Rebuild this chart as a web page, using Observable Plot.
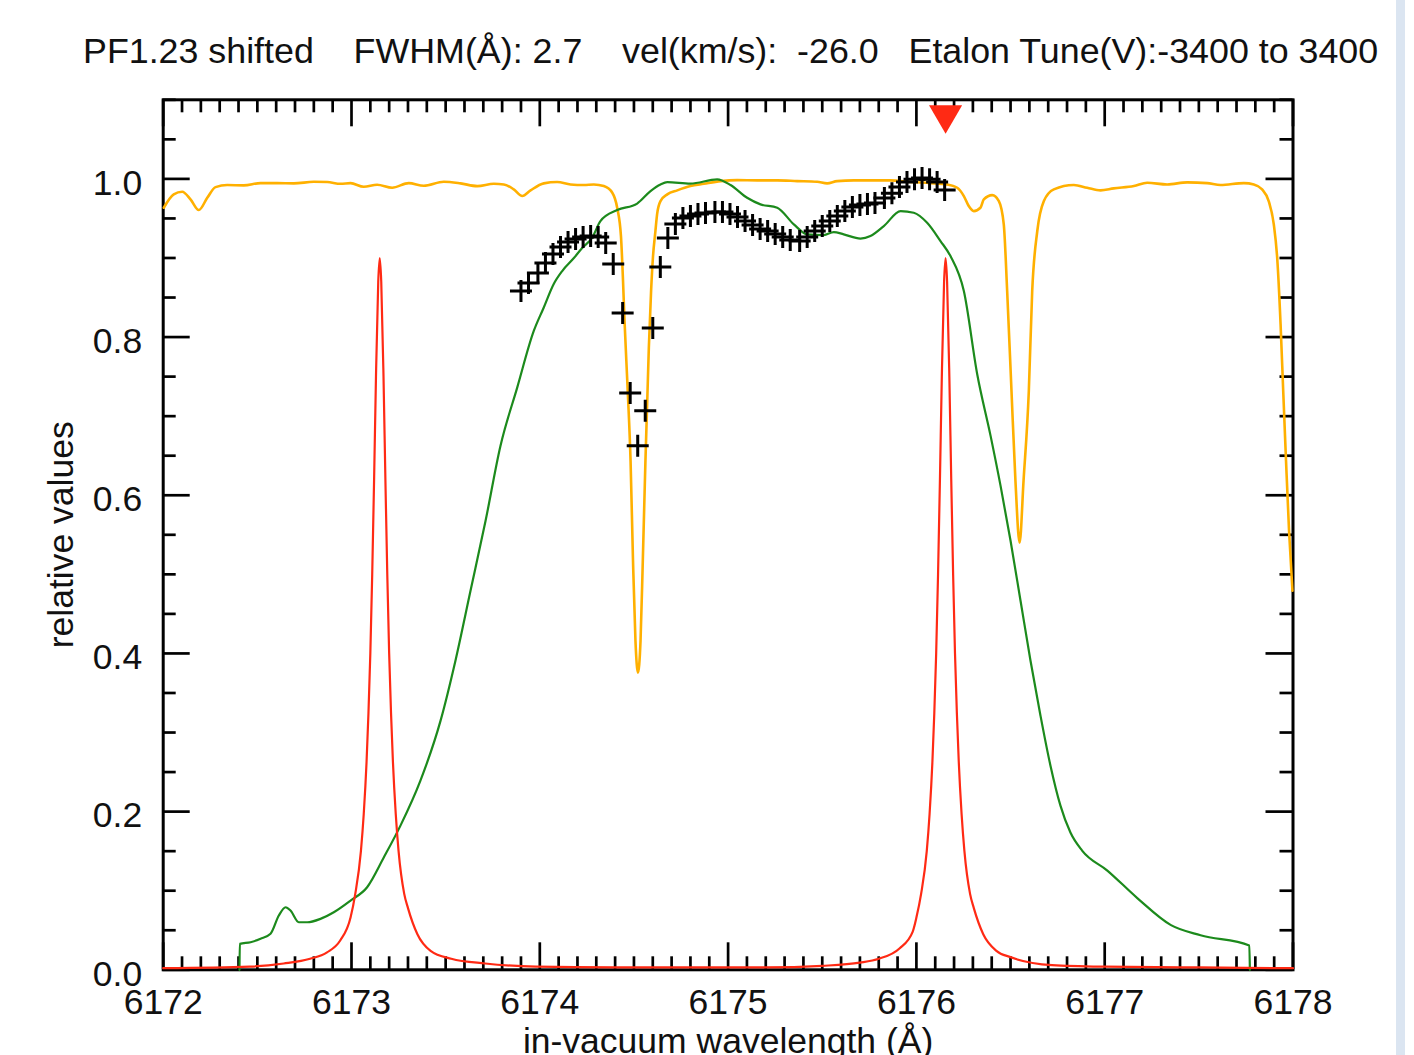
<!DOCTYPE html>
<html><head><meta charset="utf-8">
<script src="https://cdn.jsdelivr.net/npm/d3@7"></script>
<script src="https://cdn.jsdelivr.net/npm/@observablehq/plot@0.6"></script>
<style>
html,body{margin:0;padding:0;background:#fff;}
#wrap{position:relative;width:1414px;height:1055px;overflow:hidden;font-family:"Liberation Sans",Arial,sans-serif;}
#chart{position:absolute;left:0;top:0;}
#title{position:absolute;left:83px;top:34px;font-size:35.8px;line-height:1;white-space:pre;color:#111;}
#strip{position:absolute;left:1396px;top:0;width:9px;height:1055px;background:#dbe5f1;}
</style></head>
<body>
<div id="wrap">
  <div id="chart"></div>
  <div id="title">PF1.23 shifted    FWHM(Å): 2.7    vel(km/s):  -26.0   Etalon Tune(V):-3400 to 3400</div>
  <div id="strip"></div>
</div>
<script>
// ---------- data ----------
const solarWave = [6172.003,6172.056,6172.101,6172.145,6172.189,6172.234,6172.278,6172.340,6172.428,6172.517,6172.605,6172.694,6172.800,6172.871,6172.942,6172.995,6173.065,6173.136,6173.216,6173.304,6173.384,6173.490,6173.579,6173.668,6173.756,6173.809,6173.862,6173.907,6173.951,6174.021,6174.092,6174.163,6174.234,6174.287,6174.340,6174.385,6174.411,6174.431,6174.442,6174.450,6174.467,6174.482,6174.495,6174.508,6174.521,6174.535,6174.547,6174.561,6174.579,6174.591,6174.601,6174.614,6174.623,6174.641,6174.677,6174.730,6174.800,6174.871,6174.960,6175.048,6175.155,6175.261,6175.367,6175.473,6175.526,6175.579,6175.668,6175.774,6175.862,6175.969,6176.075,6176.164,6176.217,6176.252,6176.278,6176.305,6176.340,6176.358,6176.403,6176.438,6176.464,6176.482,6176.505,6176.526,6176.548,6176.569,6176.597,6176.615,6176.642,6176.677,6176.730,6176.836,6176.907,6176.978,6177.048,6177.155,6177.226,6177.332,6177.438,6177.544,6177.615,6177.739,6177.792,6177.836,6177.871,6177.898,6177.916,6177.934,6177.948,6177.963,6177.979,6177.997];
const solarFlux = [0.9635,0.9804,0.9837,0.9741,0.9606,0.9761,0.9896,0.9922,0.9918,0.9947,0.9947,0.9943,0.9963,0.9960,0.9938,0.9947,0.9900,0.9925,0.9888,0.9947,0.9913,0.9963,0.9943,0.9909,0.9938,0.9930,0.9867,0.9783,0.9855,0.9943,0.9960,0.9930,0.9922,0.9930,0.9909,0.9825,0.9635,0.9277,0.8709,0.8203,0.7319,0.6435,0.5171,0.4160,0.3756,0.4160,0.5171,0.6435,0.7862,0.8582,0.9012,0.9341,0.9555,0.9720,0.9804,0.9855,0.9909,0.9938,0.9972,0.9985,0.9981,0.9981,0.9972,0.9963,0.9943,0.9972,0.9981,0.9981,0.9981,0.9960,0.9947,0.9930,0.9888,0.9783,0.9657,0.9593,0.9635,0.9741,0.9795,0.9720,0.9425,0.8582,0.7319,0.6182,0.5399,0.6182,0.7319,0.8582,0.9341,0.9720,0.9867,0.9922,0.9888,0.9855,0.9880,0.9909,0.9951,0.9930,0.9956,0.9947,0.9922,0.9947,0.9930,0.9867,0.9720,0.9425,0.9003,0.8166,0.7319,0.6435,0.5551,0.4792];

const filterWave = [6172.405,6172.407,6172.464,6172.517,6172.570,6172.614,6172.650,6172.676,6172.720,6172.765,6172.835,6172.906,6172.995,6173.083,6173.172,6173.260,6173.366,6173.473,6173.552,6173.632,6173.712,6173.791,6173.880,6173.968,6174.020,6174.074,6174.119,6174.181,6174.225,6174.278,6174.322,6174.411,6174.517,6174.588,6174.641,6174.677,6174.800,6174.942,6175.013,6175.101,6175.172,6175.261,6175.349,6175.420,6175.508,6175.561,6175.614,6175.703,6175.756,6175.827,6175.916,6175.986,6176.057,6176.128,6176.181,6176.252,6176.323,6176.394,6176.447,6176.500,6176.553,6176.606,6176.659,6176.712,6176.765,6176.818,6176.880,6177.014,6177.173,6177.352,6177.509,6177.768,6177.771];
const filterTrans = [0,0.0328,0.0349,0.0392,0.0455,0.0686,0.0791,0.0749,0.0601,0.0601,0.0644,0.0728,0.0876,0.1044,0.1423,0.1823,0.2392,0.3150,0.3908,0.4792,0.5677,0.6624,0.7361,0.8077,0.8368,0.8671,0.8835,0.8999,0.9126,0.9256,0.9467,0.9606,0.9688,0.9846,0.9930,0.9960,0.9941,0.9994,0.9922,0.9761,0.9678,0.9635,0.9425,0.9299,0.9290,0.9328,0.9299,0.9246,0.9277,0.9403,0.9593,0.9572,0.9445,0.9214,0.9024,0.8582,0.7530,0.6751,0.6119,0.5424,0.4666,0.3908,0.3213,0.2581,0.2076,0.1735,0.1507,0.1255,0.0907,0.0565,0.0437,0.0307,0];

const etalonWave = [6172.00,6172.46,6172.64,6172.78,6172.87,6172.94,6172.995,6173.02,6173.05,6173.065,6173.08,6173.09,6173.10,6173.11,6173.12,6173.13,6173.142,6173.15,6173.158,6173.17,6173.18,6173.19,6173.20,6173.21,6173.22,6173.235,6173.25,6173.28,6173.30,6173.35,6173.42,6173.53,6173.71,6173.98,6174.40,6174.80,6175.20,6175.50,6175.70,6175.80,6175.91,6175.98,6176.00,6176.025,6176.055,6176.07,6176.085,6176.095,6176.105,6176.115,6176.125,6176.135,6176.147,6176.155,6176.163,6176.175,6176.185,6176.195,6176.205,6176.215,6176.225,6176.24,6176.255,6176.285,6176.305,6176.355,6176.425,6176.50,6176.72,6177.00,6177.50,6178.00];
const etalonTrans = [0.002,0.004,0.008,0.014,0.022,0.037,0.066,0.096,0.15,0.197,0.263,0.324,0.40,0.50,0.62,0.75,0.87,0.90,0.87,0.75,0.62,0.50,0.40,0.324,0.263,0.197,0.15,0.096,0.078,0.045,0.024,0.014,0.008,0.004,0.003,0.003,0.003,0.005,0.009,0.014,0.027,0.048,0.066,0.096,0.15,0.197,0.263,0.324,0.40,0.50,0.62,0.75,0.87,0.90,0.87,0.75,0.62,0.50,0.40,0.324,0.263,0.197,0.15,0.096,0.078,0.045,0.024,0.016,0.006,0.004,0.003,0.002];

const scanWave = [6173.90,6173.94,6173.99,6174.03,6174.07,6174.11,6174.15,6174.19,6174.23,6174.27,6174.31,6174.35,6174.39,6174.44,6174.48,6174.52,6174.56,6174.60,6174.64,6174.68,6174.72,6174.76,6174.80,6174.84,6174.88,6174.93,6174.97,6175.01,6175.05,6175.09,6175.13,6175.17,6175.21,6175.25,6175.29,6175.33,6175.38,6175.42,6175.46,6175.50,6175.54,6175.58,6175.62,6175.66,6175.70,6175.74,6175.78,6175.83,6175.87,6175.91,6175.95,6175.99,6176.03,6176.07,6176.11,6176.15];
const scanValue = [0.8583,0.8684,0.8811,0.8937,0.9051,0.9139,0.9202,0.9240,0.9265,0.9278,0.9265,0.9189,0.8924,0.8305,0.7294,0.6625,0.7067,0.8115,0.8886,0.9252,0.9429,0.9505,0.9530,0.9555,0.9568,0.9581,0.9581,0.9555,0.9517,0.9467,0.9416,0.9365,0.9340,0.9302,0.9265,0.9227,0.9214,0.9265,0.9340,0.9404,0.9467,0.9530,0.9593,0.9644,0.9669,0.9682,0.9694,0.9757,0.9820,0.9896,0.9960,0.9997,1.0010,0.9997,0.9960,0.9859];

const markerWave = [6176.155];

const xTickValues = [6172,6173,6174,6175,6176,6177,6178];
const xTickLabels = ["6172","6173","6174","6175","6176","6177","6178"];
const yTickValues = [0,0.2,0.4,0.6,0.8,1.0];
const yTickLabels = ["0.0","0.2","0.4","0.6","0.8","1.0"];
const xMinorStep = 0.1, yMinorStep = 0.05;
const xLabel = "in-vacuum wavelength (Å)";
const yLabel = "relative values";

// ---------- build ----------
const solar = solarWave.map((w,i)=>({w, v: solarFlux[i]}));
const filt = filterWave.map((w,i)=>({w, v: filterTrans[i]}));
const etal = etalonWave.map((w,i)=>({w, v: etalonTrans[i]}));
const scan = scanWave.map((w,i)=>({w, v: scanValue[i]}));

const xMinor = d3.range(0, 61).map(i => 6172 + i*xMinorStep).filter(v => !xTickValues.some(t => Math.abs(t-v) < 1e-6));
const yMinor = d3.range(0, 23).map(i => i*yMinorStep).filter(v => !yTickValues.some(t => Math.abs(t-v) < 1e-6));

const W = 1414, H = 1055;
const mL = 162.7, mR = W - 1292.5, mT = 99.3, mB = H - 969.3;
const fW = W - mL - mR, fH = H - mT - mB;
const majLen = 27, minLen = 13, tickW = 2.7;

const plusSymbol = {draw(ctx, size){ const r = Math.sqrt(size/Math.PI); ctx.moveTo(-r,0); ctx.lineTo(r,0); ctx.moveTo(0,-r); ctx.lineTo(0,r); }};
const triDown = {draw(ctx, size){ const r = Math.sqrt(size/Math.PI); ctx.moveTo(-r*1.38,0); ctx.lineTo(r*1.38,0); ctx.lineTo(0,r*2.38); ctx.closePath(); }};

const font = "'Liberation Sans', Arial, sans-serif";

const chart = Plot.plot({
  width: W, height: H,
  marginLeft: mL, marginRight: mR, marginTop: mT, marginBottom: mB,
  x: {domain: [6172, 6178]},
  y: {domain: [0, 1.1]},
  style: {fontFamily: font, fontSize: "35.5px", color: "#111", background: "transparent", overflow: "visible"},
  marks: [
    // ticks (inward, all four sides)
    Plot.ruleX(xTickValues, {insetTop: fH - majLen, stroke: "#000", strokeWidth: tickW}),
    Plot.ruleX(xMinor, {insetTop: fH - minLen, stroke: "#000", strokeWidth: tickW}),
    Plot.ruleX(xTickValues, {insetBottom: fH - majLen, stroke: "#000", strokeWidth: tickW}),
    Plot.ruleX(xMinor, {insetBottom: fH - minLen, stroke: "#000", strokeWidth: tickW}),
    Plot.ruleY(yTickValues, {insetRight: fW - majLen, stroke: "#000", strokeWidth: tickW}),
    Plot.ruleY(yMinor, {insetRight: fW - minLen, stroke: "#000", strokeWidth: tickW}),
    Plot.ruleY(yTickValues, {insetLeft: fW - majLen, stroke: "#000", strokeWidth: tickW}),
    Plot.ruleY(yMinor, {insetLeft: fW - minLen, stroke: "#000", strokeWidth: tickW}),
    Plot.frame({stroke: "#000", strokeWidth: 3}),
    // curves
    Plot.line(solar, {x: "w", y: "v", stroke: "#ffb000", strokeWidth: 2.6, curve: "monotone-x"}),
    Plot.line(filt, {x: "w", y: "v", stroke: "#1c8a1c", strokeWidth: 2.2, curve: "monotone-x"}),
    Plot.line(etal, {x: "w", y: "v", stroke: "#ff2a14", strokeWidth: 2.2, curve: "monotone-x"}),
    Plot.dot(scan, {x: "w", y: "v", symbol: plusSymbol, r: 11, fill: "none", stroke: "#000", strokeWidth: 3}),
    Plot.dot(markerWave, {x: d => d, y: () => 1.1, symbol: triDown, r: 12, fill: "#ff2a14", stroke: "none", dy: 5.5}),
    // axes labels
    Plot.axisX(xTickValues, {anchor: "bottom", tickSize: 0, tickPadding: 19, tickFormat: (d, i) => xTickLabels[i], label: null, fontSize: 35.5}),
    Plot.axisY(yTickValues, {anchor: "left", tickSize: 0, tickPadding: 21, tickFormat: (d, i) => yTickLabels[i], label: null, dy: 4.5, fontSize: 35.5}),
    Plot.text([xLabel], {frameAnchor: "bottom", textAnchor: "middle", lineAnchor: "middle", dy: 72.3, fontSize: 35.5}),
    Plot.text([yLabel], {frameAnchor: "left", textAnchor: "middle", lineAnchor: "middle", rotate: -90, dx: -102, fontSize: 35.5})
  ]
});
document.getElementById("chart").appendChild(chart);
</script>
</body></html>
